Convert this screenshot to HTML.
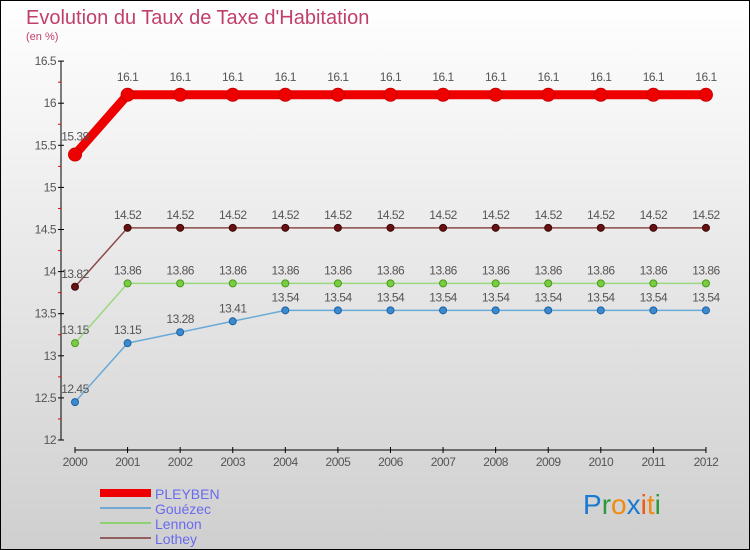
<!DOCTYPE html>
<html><head><meta charset="utf-8"><style>
body{margin:0}
#c{width:750px;height:550px;position:relative;overflow:hidden}
text{font-family:"Liberation Sans",sans-serif}
</style></head><body>
<div id="c">
<svg id="s" width="750" height="550" xmlns="http://www.w3.org/2000/svg">
<defs><linearGradient id="bg" x1="0" y1="0" x2="0" y2="1"><stop offset="0" stop-color="#ffffff"/><stop offset="1" stop-color="#cfcfcf"/></linearGradient></defs>
<rect x="0.5" y="0.5" width="749" height="549" fill="url(#bg)" stroke="#000"/>
<text x="26" y="24" font-size="20" fill="#c0406a">Evolution du Taux de Taxe d'Habitation</text>
<text x="26" y="40" font-size="11" fill="#c0406a">(en %)</text>
<g id="g"></g>
<g>
<rect x="100" y="489" width="51" height="8" fill="#ee0000"/>
<text x="155" y="499" font-size="14" fill="#6a6aee">PLEYBEN</text>
<rect x="100" y="507" width="51" height="2" fill="#6fa8d0"/>
<text x="155" y="514" font-size="14" fill="#6a6aee">Gouézec</text>
<rect x="100" y="522" width="51" height="2" fill="#8fd070"/>
<text x="155" y="529" font-size="14" fill="#6a6aee">Lennon</text>
<rect x="100" y="537" width="51" height="2" fill="#906060"/>
<text x="155" y="544" font-size="14" fill="#6a6aee">Lothey</text>
</g>
<g font-size="28">
<text x="583" y="514"><tspan fill="#1a7ad0">P</tspan><tspan fill="#2a9a3a">r</tspan><tspan fill="#f08a10">o</tspan><tspan fill="#1a7ad0">x</tspan><tspan fill="#f05a10">i</tspan><tspan fill="#f08a10">t</tspan><tspan fill="#2a9a3a">i</tspan></text>
</g>
</svg>
</div>
<script>
const years=[2000,2001,2002,2003,2004,2005,2006,2007,2008,2009,2010,2011,2012];
const pleyben=[15.39,16.1,16.1,16.1,16.1,16.1,16.1,16.1,16.1,16.1,16.1,16.1,16.1];
const gouezec=[12.45,13.15,13.28,13.41,13.54,13.54,13.54,13.54,13.54,13.54,13.54,13.54,13.54];
const lennon=[13.15,13.86,13.86,13.86,13.86,13.86,13.86,13.86,13.86,13.86,13.86,13.86,13.86];
const lothey=[13.82,14.52,14.52,14.52,14.52,14.52,14.52,14.52,14.52,14.52,14.52,14.52,14.52];
const yTicks=[12,12.5,13,13.5,14,14.5,15,15.5,16,16.5];
const NS="http://www.w3.org/2000/svg";
const g=document.getElementById('g');
const x=i=>75+i*52.58;
const y=v=>440-(v-12)*84.2;
function mk(t,a,p){const e=document.createElementNS(NS,t);for(const k in a)e.setAttribute(k,a[k]);(p||g).appendChild(e);return e;}
let ax=mk('line',{x1:61,y1:y(16.5),x2:61,y2:440,stroke:'#000'});


yTicks.forEach(v=>{
 mk('line',{x1:58,y1:y(v),x2:64,y2:y(v),stroke:'#000'});
 if(v<16.5)mk('line',{x1:58,y1:y(v+0.25),x2:61,y2:y(v+0.25),stroke:'#e00'});
 let t=mk('text',{x:56,y:y(v)+4,'text-anchor':'end','font-size':12,fill:'#555','letter-spacing':'-0.5'});
 t.textContent=String(v);
 
 
});
let xa=mk('line',{x1:x(0),y1:450,x2:x(12),y2:450,stroke:'#000'});


years.forEach((yr,i)=>{
 mk('line',{x1:x(i),y1:447,x2:x(i),y2:453,stroke:'#000'});
 let t=mk('text',{x:x(i),y:466,'text-anchor':'middle','font-size':12,fill:'#555','letter-spacing':'-0.5'});
 t.textContent=yr;
 
 
});
function series(d,name,col,w,r,fill,stroke){
 const s=mk('g',{});
 
 
 const pl=mk('polyline',{points:d.map((v,i)=>x(i)+','+y(v)).join(' '),fill:'none',stroke:col,'stroke-width':w,'stroke-linejoin':'round'},s);
 
 
 d.forEach((v,i)=>{
  const c=mk('circle',{cx:x(i),cy:y(v),r:r,fill:fill,stroke:stroke,'stroke-width':1},s);
  
  
  const t=mk('text',{x:x(i),y:y(v)-(w>4?14:9),'text-anchor':'middle','font-size':12,fill:'#555','letter-spacing':'-0.5'},s);
  t.textContent=String(v);
  
  
 });
}
series(lothey,'lothey','#8a4a4a',1.5,3.5,'#6a1010','#3a0a0a');
series(lennon,'lennon','#9ad880',1.5,3.5,'#7acc40','#4a9a20');
series(gouezec,'gouezec','#6aaad8',1.5,3.5,'#3a8ad0','#2060a0');
series(pleyben,'pleyben','#ee0000',9,6.5,'#ee0000','#cc0000');
</script>
</body></html>
